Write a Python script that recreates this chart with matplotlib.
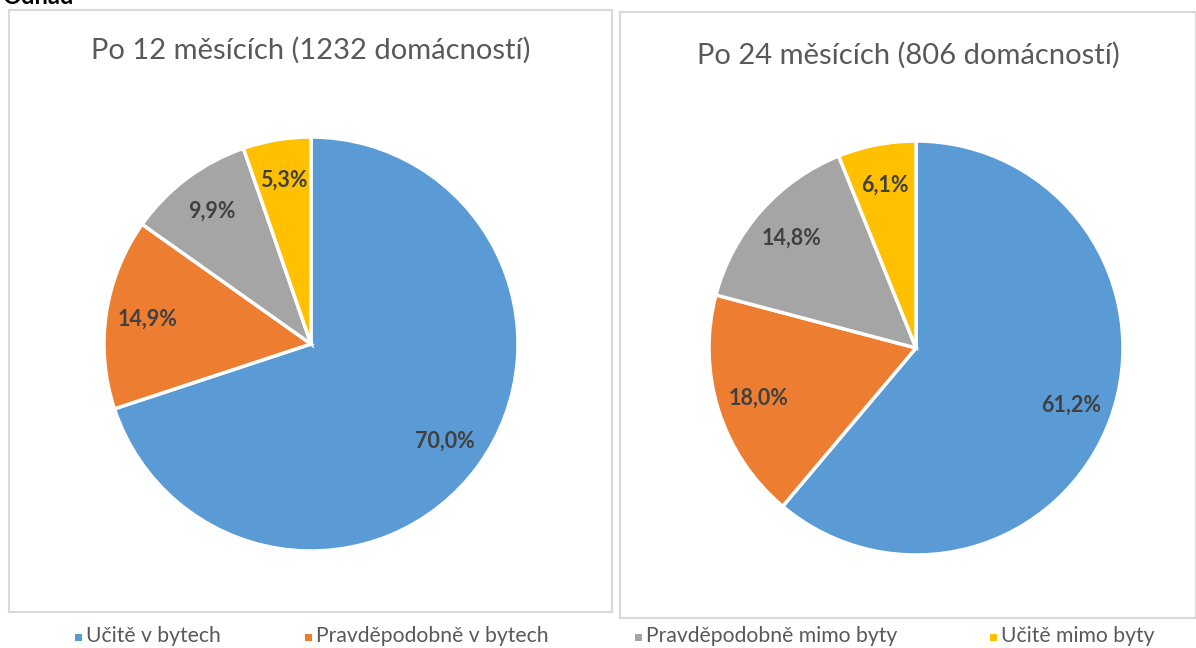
import matplotlib.pyplot as plt
from matplotlib.patches import Rectangle

# === DATA ===
LABELS = ["Učitě v bytech", "Pravděpodobně v bytech", "Pravděpodobně mimo byty", "Učitě mimo byty"]
COLORS = ["#5B9BD5", "#ED7D31", "#A5A5A5", "#FFC000"]
VALUES_12 = [70.0, 14.9, 9.9, 5.3]
VALUES_24 = [61.2, 18.0, 14.8, 6.1]
TITLE_12 = "Po 12 měsících (1232 domácností)"
TITLE_24 = "Po 24 měsících (806 domácností)"

W, H = 1196, 648
FONT = ["Lato", "DejaVu Sans"]
plt.rcParams['font.family'] = FONT

fig = plt.figure(figsize=(W / 100, H / 100), dpi=100)


def px_box(x0, y0, x1, y1):
    """Pixel coords (top-left origin) -> figure fraction rect."""
    return [x0 / W, 1 - y1 / H, (x1 - x0) / W, (y1 - y0) / H]


def draw_panel(box, center, radius, values, title, title_y):
    # panel border
    l, b, w, h = px_box(*box)
    fig.add_artist(Rectangle((l, b), w, h, transform=fig.transFigure,
                             fill=False, edgecolor="#D9D9D9", linewidth=1.5))
    cx, cy = center
    ax = fig.add_axes(px_box(cx - radius, cy - radius, cx + radius, cy + radius))
    labels = [f"{v:.1f}%".replace(".", ",") for v in values]
    wedges, texts = ax.pie(values, colors=COLORS, startangle=90, counterclock=False,
                           labels=labels, labeldistance=0.8,
                           wedgeprops=dict(edgecolor="white", linewidth=2.5),
                           textprops=dict(fontsize=15.5, fontweight="bold", color="#404040"))
    for t in texts:
        t.set_ha("center")
        t.set_va("center")
    ax.set_xlim(-1, 1)
    ax.set_ylim(-1, 1)
    ax.set_aspect("equal")
    ax.axis("off")
    fig.text((box[0] + box[2]) / 2 / W, 1 - title_y / H, title, ha="center", va="center",
             fontsize=21, color="#595959")


draw_panel((9, 10, 612, 612), (311, 344), 207, VALUES_12, TITLE_12, 50)
draw_panel((620, 12, 1196, 618), (916, 348), 207, VALUES_24, TITLE_24, 55)

# partially visible heading at the very top
fig.text(2 / W, 1 - 4 / H, "Odhad", ha="left", va="baseline", fontsize=17,
         fontweight="bold", color="black")

# legend
legend_x = [75, 305, 635, 990]
for x, lab, col in zip(legend_x, LABELS, COLORS):
    fig.add_artist(Rectangle((x / W, 1 - 641 / H), 7 / W, 7 / H, transform=fig.transFigure,
                             facecolor=col, edgecolor="none"))
    fig.text((x + 11) / W, 1 - 636 / H, lab, ha="left", va="center", fontsize=15.2,
             color="#595959")

fig.savefig("out.png", dpi=100)
